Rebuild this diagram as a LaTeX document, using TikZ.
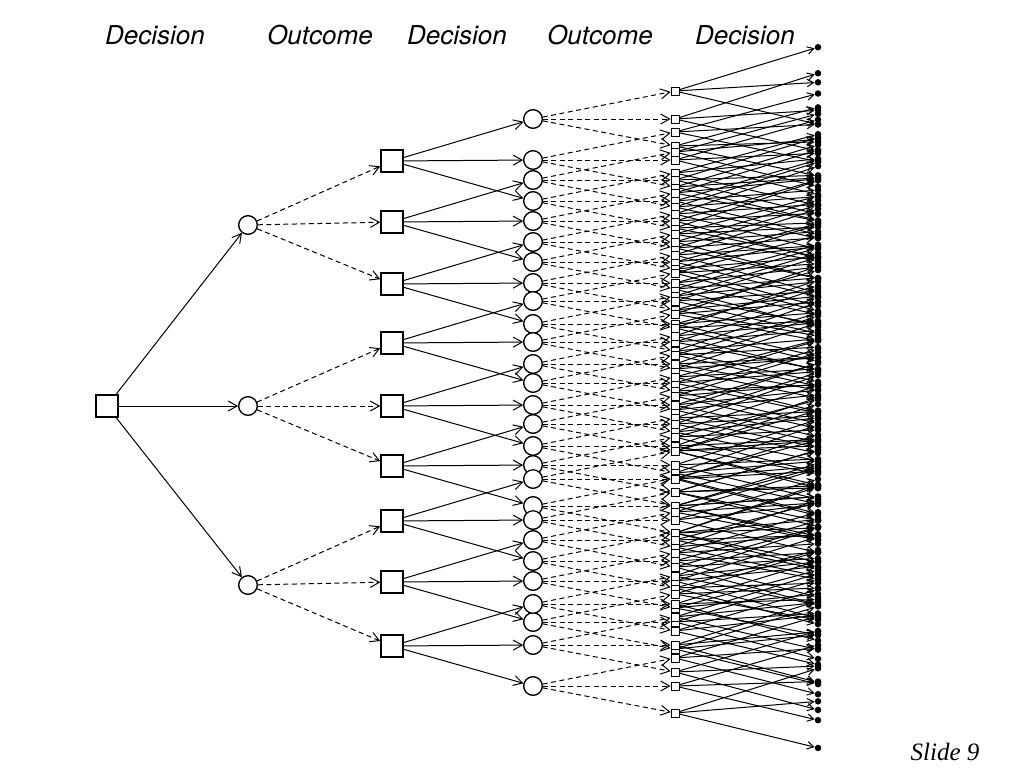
\documentclass[tikz,border=0pt]{standalone}
\usepackage{fontspec}
\newfontfamily\helv{TeX Gyre Heros}
\newfontfamily\tms{Liberation Serif}
\usetikzlibrary{arrows.meta}
\begin{document}
\begin{tikzpicture}[x=1pt,y=-1pt,
  dec/.style={draw,line width=1.5pt,fill=white,minimum size=22pt,inner sep=0pt},
  outc/.style={draw,circle,line width=1.2pt,fill=white,minimum size=18.5pt,inner sep=0pt},
  sdec/.style={draw,line width=0.9pt,fill=white,minimum size=8pt,inner sep=0pt},
  leaf/.style={circle,fill=black,minimum size=6.5pt,inner sep=0pt},
  choice/.style={line width=1pt,-{Straight Barb[length=9pt,width=10pt,line width=1pt]}},
  smallchoice/.style={line width=1pt,-{Straight Barb[length=6.5pt,width=7.5pt,line width=1pt]}},
  chance/.style={line width=1pt,dash pattern=on 5pt off 3.5pt,-{Straight Barb[length=9pt,width=10pt,line width=1pt]}},
  lbl/.style={font=\helv\itshape\fontsize{26}{26}\selectfont,inner sep=0pt}
]
\useasboundingbox (0,0) rectangle (1024,768);
\pgfmathsetseed{7}
\node[lbl] (h1) at (155,35) {Decision};
\node[lbl] (h2) at (320,35) {Outcome};
\node[lbl] (h3) at (457,35) {Decision};
\node[lbl] (h4) at (600,35) {Outcome};
\node[lbl] (h5) at (745,35) {Decision};
\node[font=\tms\itshape\fontsize{25}{25}\selectfont,inner sep=0pt] (sl) at (945,752) {Slide 9};

% pass 1: place the nodes
\node[dec] (R) at (107,406) {};
\foreach \ia in {1,2,3}{
  \pgfmathsetmacro\ya{{225,406,585}[\ia-1]}
  \node[outc] (A\ia) at (248,\ya) {};
  \foreach \ib in {1,2,3}{
    \pgfmathtruncatemacro\nb{3*(\ia-1)+\ib}
    \pgfmathsetmacro\yb{{161,222,284,343,406,466,521,582,646}[\nb-1]}
    \node[dec] (B\nb) at (392,\yb) {};
    \foreach \ic/\offc in {1/-42,2/-1,3/40}{
      \pgfmathtruncatemacro\nc{3*(\nb-1)+\ic}
      \pgfmathsetmacro\yc{\yb+\offc}
      \node[outc] (C\nc) at (533,\yc) {};
      \foreach \id/\offd in {1/-28,2/0,3/27}{
        \pgfmathtruncatemacro\nd{3*(\nc-1)+\id}
        \pgfmathsetmacro\yd{\yc+\offd}
        \node[sdec] (D\nd) at (675,\yd) {};
        \foreach \ie/\offe in {1/-43,2/-10,3/32}{
          \pgfmathtruncatemacro\ne{3*(\nd-1)+\ie}
          \pgfmathsetmacro\ye{\yd+\offe+6*rand}
          \node[leaf] (E\ne) at (818,\ye) {};
        }
      }
    }
  }
}
% pass 2: connectors
\foreach \k in {1,2,3}{\draw[choice] (R) -- (A\k);}
\foreach \k in {1,...,9}{\pgfmathtruncatemacro\pa{ceil(\k/3)}\draw[chance] (A\pa) -- (B\k);}
\foreach \k in {1,...,27}{\pgfmathtruncatemacro\pa{ceil(\k/3)}\draw[choice] (B\pa) -- (C\k);}
\foreach \k in {1,...,81}{\pgfmathtruncatemacro\pa{ceil(\k/3)}\draw[chance] (C\pa) -- (D\k);}
\foreach \k in {1,...,243}{\pgfmathtruncatemacro\pa{ceil(\k/3)}\draw[smallchoice] (D\pa) -- (E\k);}
% pass 3: nodes on top of the connectors
\foreach \k in {1,2,3}{\node[outc] (A\k) at (A\k) {};}
\foreach \k in {1,...,9}{\node[dec] (B\k) at (B\k) {};}
\foreach \k in {1,...,27}{\node[outc] (C\k) at (C\k) {};}
\foreach \k in {1,...,81}{\node[sdec] (D\k) at (D\k) {};}
\end{tikzpicture}
\end{document}
